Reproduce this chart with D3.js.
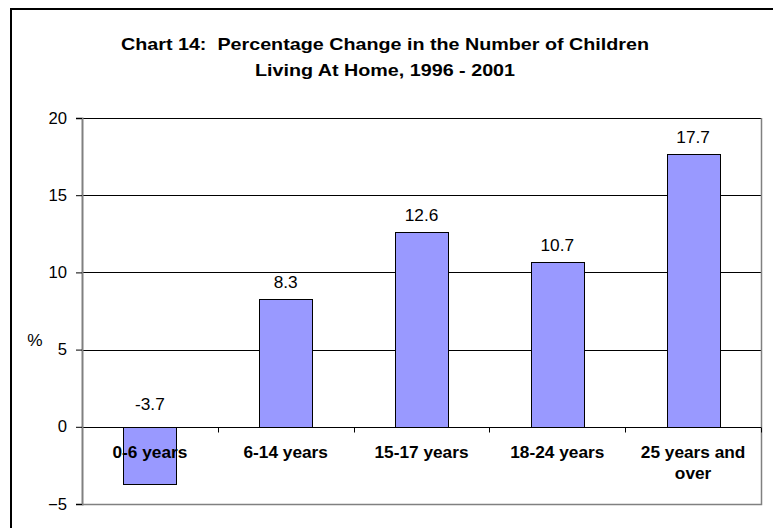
<!DOCTYPE html>
<html>
<head>
<meta charset="utf-8">
<script src="https://cdn.jsdelivr.net/npm/d3@7"></script>
<style>
  body { margin: 0; background: #fff; }
  text { font-family: Arial, "Liberation Sans", sans-serif; fill: #000; white-space: pre; }
</style>
</head>
<body>
<div id="chart"></div>
<script>
// chart data
var categories = ["0-6 years", "6-14 years", "15-17 years", "18-24 years", "25 years and over"];
var values = [-3.7, 8.3, 12.6, 10.7, 17.7];
var yTicks = [-5, 0, 5, 10, 15, 20];
var titleLines = ["Chart 14:  Percentage Change in the Number of Children", "Living At Home, 1996 - 2001"];
var yLabel = "%";

var svgWidth = 773;
var svgHeight = 528;

// plot area box
var plot = { left: 82, right: 761, top: 118, bottom: 504 };

// the original looks horizontally stretched, so text gets a small x scale
var SX = 1.08;

var svg = d3.select("#chart")
  .append("svg")
  .attr("width", svgWidth)
  .attr("height", svgHeight);

svg.append("rect")
  .attr("width", svgWidth)
  .attr("height", svgHeight)
  .attr("fill", "#fff");

// outer chart frame (right and bottom edges fall off the picture)
svg.append("rect")
  .attr("x", 11)
  .attr("y", 9)
  .attr("width", 800)
  .attr("height", 560)
  .attr("fill", "none")
  .attr("stroke", "#000")
  .attr("stroke-width", 2);

function stretchedText(g, x, y, str, size, weight, anchor, sx) {
  return g.append("text")
    .attr("transform", `translate(${x},${y}) scale(${sx},1)`)
    .attr("text-anchor", anchor)
    .attr("xml:space", "preserve")
    .style("font-size", size + "px")
    .style("font-weight", weight)
    .text(str);
}

// title
titleLines.forEach(function(line, i) {
  stretchedText(svg, 385, 50 + i * 26, line, 17, "bold", "middle", 1.16);
});

// scales
var xScale = d3.scaleBand()
  .domain(categories)
  .range([plot.left, plot.right])
  .paddingInner(0.61)
  .paddingOuter(0.305);

var yScale = d3.scaleLinear()
  .domain([d3.min(yTicks), d3.max(yTicks)])
  .range([plot.bottom, plot.top]);

var step = xScale.step();

// gridlines
svg.append("g")
  .selectAll("line")
  .data(yTicks.filter(d => d > 0))
  .enter()
  .append("line")
  .attr("x1", plot.left)
  .attr("x2", plot.right)
  .attr("y1", d => Math.round(yScale(d)) + 0.5)
  .attr("y2", d => Math.round(yScale(d)) + 0.5)
  .attr("stroke", "#000")
  .attr("stroke-width", 1);

// plot area border, right and bottom
svg.append("path")
  .attr("d", `M${plot.right + 0.5},${plot.top}V${plot.bottom + 0.5}H${plot.left}`)
  .attr("fill", "none")
  .attr("stroke", "#808080")
  .attr("stroke-width", 1.5);

// bars
svg.append("g")
  .selectAll("rect")
  .data(values)
  .enter()
  .append("rect")
  .attr("x", (d, i) => Math.round(xScale(categories[i])) + 0.5)
  .attr("y", d => Math.round(yScale(Math.max(d, 0))) + 0.5)
  .attr("width", Math.round(xScale.bandwidth()))
  .attr("height", d => Math.round(Math.abs(yScale(d) - yScale(0))))
  .attr("fill", "#9999ff")
  .attr("stroke", "#000")
  .attr("stroke-width", 1);

// zero line with category tick marks
var y0 = Math.round(yScale(0)) + 0.5;
svg.append("line")
  .attr("x1", plot.left)
  .attr("x2", plot.right)
  .attr("y1", y0)
  .attr("y2", y0)
  .attr("stroke", "#000");

svg.append("g")
  .selectAll("line")
  .data(d3.range(categories.length + 1))
  .enter()
  .append("line")
  .attr("x1", i => Math.round(plot.left + i * step) + 0.5)
  .attr("x2", i => Math.round(plot.left + i * step) + 0.5)
  .attr("y1", y0)
  .attr("y2", y0 + 5)
  .attr("stroke", "#000");

// y axis
var leftAxis = d3.axisLeft(yScale)
  .tickValues(yTicks)
  .tickSize(6)
  .tickPadding(9)
  .tickFormat(d3.format("d"));

var yAxis = svg.append("g")
  .attr("transform", `translate(${plot.left},0)`)
  .call(leftAxis);

yAxis.select(".domain")
  .attr("stroke", "#808080")
  .attr("stroke-width", 2);
yAxis.selectAll(".tick line").attr("stroke", "#000");
yAxis.selectAll(".tick text")
  .attr("font-family", null)
  .style("font-size", "16px")
  .each(function() {
    // stretch the label around its right edge
    var t = d3.select(this);
    var x = +t.attr("x");
    t.attr("x", 0)
      .attr("transform", `translate(${x},0) scale(1.04,1)`);
  });

// y axis title
stretchedText(svg, 35, 346, yLabel, 16, "normal", "middle", SX);

// value labels
svg.append("g")
  .selectAll("text")
  .data(values)
  .enter()
  .append("text")
  .attr("transform", (d, i) => {
    var cx = xScale(categories[i]) + xScale.bandwidth() / 2;
    var y = d >= 0 ? yScale(d) - 11 : yScale(0) - 17;
    return `translate(${cx},${y}) scale(${SX},1)`;
  })
  .attr("text-anchor", "middle")
  .style("font-size", "16px")
  .text(d => d.toFixed(1));

// category labels, wrapped to the category width
var catSize = 16;
var catGroup = svg.append("g");
categories.forEach(function(cat, i) {
  var cx = xScale(cat) + xScale.bandwidth() / 2;
  var words = cat.split(" ");
  var lines = [];
  var cur = [];
  var probe = catGroup.append("text")
    .style("font-size", catSize + "px")
    .style("font-weight", "bold");
  words.forEach(function(w) {
    var test = cur.concat([w]).join(" ");
    probe.text(test);
    if (cur.length && probe.node().getComputedTextLength() * SX > step - 8) {
      lines.push(cur.join(" "));
      cur = [w];
    } else {
      cur.push(w);
    }
  });
  lines.push(cur.join(" "));
  probe.remove();
  lines.forEach(function(line, j) {
    stretchedText(catGroup, cx, 458 + j * 21, line, catSize, "bold", "middle", SX);
  });
});
</script>
</body>
</html>
